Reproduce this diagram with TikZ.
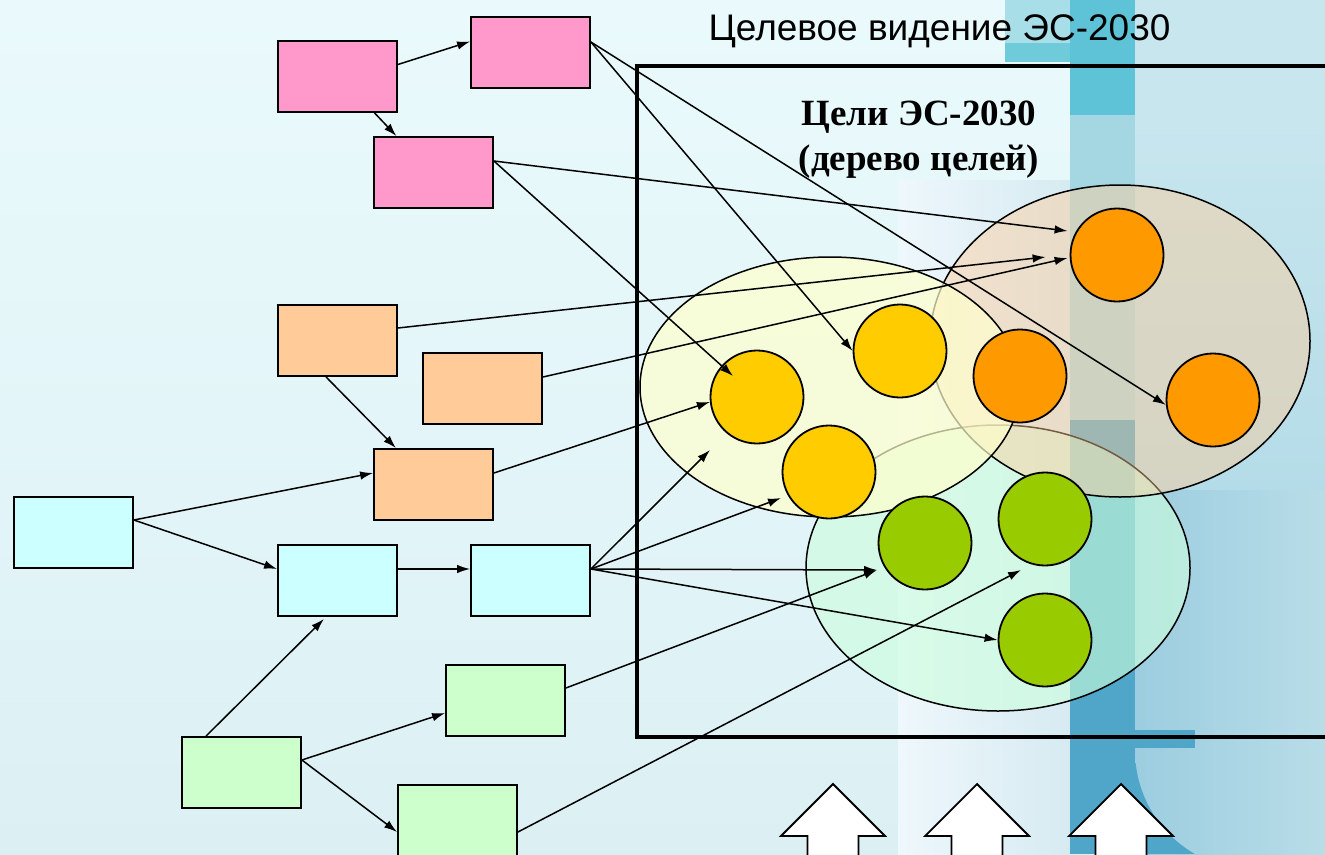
\documentclass[tikz,border=0pt]{standalone}
\usepackage{fontspec}
\setmainfont{Liberation Serif}
\newfontfamily\arialfont{Liberation Sans}
\usetikzlibrary{arrows.meta}
\definecolor{pinkF}{HTML}{FF99CC}
\definecolor{peachF}{HTML}{FFCC99}
\definecolor{cyanF}{HTML}{CCFFFF}
\definecolor{greenF}{HTML}{CCFFCC}
\definecolor{yellowC}{HTML}{FFCC00}
\definecolor{orangeC}{HTML}{FF9900}
\definecolor{greenC}{HTML}{99CC00}
\definecolor{bgTop}{HTML}{EAFAFC}
\definecolor{bgBot}{HTML}{DCF0F4}
\definecolor{bandL}{HTML}{EEF7FC}
\definecolor{bandR}{HTML}{D6EBF1}
\definecolor{stemTop}{HTML}{5EC3D6}
\definecolor{stemLight}{HTML}{A5D7E3}
\definecolor{stemDark}{HTML}{4FA6C8}
\definecolor{rightTop}{HTML}{C8E6EE}
\definecolor{rightMid}{HTML}{B4DCE8}
\definecolor{rightL}{HTML}{9CCDE0}
\definecolor{rightR}{HTML}{B8DDE7}
\definecolor{crossT}{HTML}{6FCAD9}
\definecolor{crossL}{HTML}{A8DEE8}
\definecolor{ellY}{HTML}{FFFFCC}
\definecolor{ellT}{HTML}{FFCC99}
\definecolor{ellG}{HTML}{CCFFDD}
\tikzset{
  box/.style={draw=black, line width=1.8pt, minimum width=119pt, minimum height=71pt, inner sep=0pt},
  goal/.style={circle, draw=black, line width=1.8pt, minimum size=93pt, inner sep=0pt},
  arr/.style={line width=1.5pt, -{Latex[length=13pt,width=8.5pt]}},
  blockarrow/.style={fill=white, draw=black, line width=1.8pt, line join=miter},
  area/.style={draw=black, line width=1.5pt}
}
\begin{document}
\begin{tikzpicture}[x=1pt,y=-1pt]
\useasboundingbox (0,0) rectangle (1325,854);
\clip (0,0) rectangle (1325,854);
% ---------- background ----------
\shade[top color=bgTop, bottom color=bgBot] (0,0) rectangle (1325,854);
\shade[left color=bandL, right color=bandR] (898,180) rectangle (1070,854);
\fill[crossL] (1005,0) rectangle (1070,43);
\fill[crossT] (1005,43) rectangle (1070,62);
\fill[rightTop] (1135,0) rectangle (1325,115);
\shade[top color=rightTop, bottom color=rightMid] (1135,115) rectangle (1325,490);
\shade[left color=rightL, right color=rightR] (1135,490) rectangle (1325,854);
\fill[stemTop] (1070,0) rectangle (1135,115);
\fill[stemLight] (1070,115) rectangle (1135,420);
\fill[stemDark] (1070,420) rectangle (1135,854);
\fill[stemDark] (1135,730) rectangle (1195,748);
\fill[stemDark] (1135,748) rectangle (1255,854);
\begin{scope}
  \clip (1135,748) rectangle (1325,854);
  \clip (1255,750) circle (120);
  \shade[left color=rightL, right color=rightR] (1135,490) rectangle (1325,854);
\end{scope}
% ---------- frame and titles ----------
\draw[line width=4.5pt] (637,66) rectangle (1345,737);
\node[font=\arialfont\fontsize{37}{44}\selectfont, anchor=base] (title) at (939.5,40) {Целевое видение ЭС-2030};
\node[font=\bfseries\fontsize{37}{45}\selectfont, align=center] (goals) at (919,140) {Цели ЭС-2030\\(дерево целей)};
% ---------- goal areas ----------
\fill[ellG, fill opacity=0.6] (998,568) ellipse [x radius=192, y radius=143];
\draw[area] (998,568) ellipse [x radius=192, y radius=143];
\fill[ellT, fill opacity=0.45] (1120,341) ellipse [x radius=190, y radius=156];
\draw[area] (1120,341) ellipse [x radius=190, y radius=156];
\fill[ellY, fill opacity=0.7] (830,387) ellipse [x radius=190, y radius=130];
\draw[area] (830,387) ellipse [x radius=190, y radius=130];
% ---------- goals ----------
\node[goal, fill=yellowC] (Y1) at (757,397) {};
\node[goal, fill=yellowC] (Y2) at (900,351) {};
\node[goal, fill=yellowC] (Y3) at (829,472) {};
\node[goal, fill=orangeC] (R1) at (1117,255) {};
\node[goal, fill=orangeC] (R2) at (1020,376) {};
\node[goal, fill=orangeC] (R3) at (1213,400) {};
\node[goal, fill=greenC] (Gc1) at (925,543) {};
\node[goal, fill=greenC] (Gc2) at (1045,519) {};
\node[goal, fill=greenC] (Gc3) at (1045,640) {};
% ---------- boxes ----------
\node[box, fill=pinkF] (P1) at (337.5,76.5) {};
\node[box, fill=pinkF] (P2) at (530.5,52.5) {};
\node[box, fill=pinkF] (P3) at (433.5,172.5) {};
\node[box, fill=peachF] (O1) at (337.5,340.5) {};
\node[box, fill=peachF] (O2) at (482.5,388.5) {};
\node[box, fill=peachF] (O3) at (433.5,484.5) {};
\node[box, fill=cyanF] (C1) at (73.5,532.5) {};
\node[box, fill=cyanF] (C2) at (337.5,580.5) {};
\node[box, fill=cyanF] (C3) at (530.5,580.5) {};
\node[box, fill=greenF] (G1) at (241.5,772.5) {};
\node[box, fill=greenF] (G2) at (505.5,700.5) {};
\node[box, fill=greenF] (G3) at (457.5,820.5) {};
\coordinate (free) at (710,450);
% ---------- connectors ----------
\draw[arr] ([yshift=12pt]P1.east) -- ([yshift=11pt]P2.west);
\draw[arr] ([xshift=37pt]P1.south) -- ([xshift=-37pt]P3.north);
\draw[arr] ([yshift=10.5pt]P2.east) -- (Y2.west);
\draw[arr] ([yshift=10.5pt]P2.east) -- (R3.186);
\draw[arr] ([yshift=11.5pt]P3.east) -- ([xshift=-2pt,yshift=24pt]R1.west);
\draw[arr] ([yshift=11.5pt]P3.east) -- ([xshift=-24pt,yshift=21pt]Y1.center);
\draw[arr] ([yshift=12.5pt]O1.east) -- ([xshift=-24pt,yshift=-2pt]R1.west);
\draw[arr] ([yshift=11.5pt]O2.east) -- ([xshift=-2pt,yshift=-3pt]R1.west);
\draw[arr] ([xshift=-11.5pt]O1.south) -- ([xshift=-37.5pt]O3.north);
\draw[arr] ([yshift=11.5pt]O3.east) -- (Y1.186);
\draw[arr] ([yshift=12.5pt]C1.east) -- ([yshift=11.5pt]O3.west);
\draw[arr] ([yshift=12.5pt]C1.east) -- ([yshift=11.5pt]C2.west);
\draw[arr] ([yshift=11.5pt]C2.east) -- ([yshift=11.5pt]C3.west);
\draw[arr] ([xshift=-35.5pt]G1.north) -- ([xshift=-13.5pt,yshift=-2pt]C2.south);
\draw[arr] ([yshift=12.5pt]G1.east) -- ([yshift=-12.5pt]G2.west);
\draw[arr] ([yshift=12.5pt]G1.east) -- ([yshift=-11.5pt]G3.west);
\draw[arr] ([yshift=11.5pt]C3.east) -- (free);
\draw[arr] ([yshift=11.5pt]C3.east) -- ([xshift=-48pt,yshift=-26pt]Y3.center);
\draw[arr] ([yshift=11.5pt]C3.east) -- ([xshift=-48pt,yshift=-27pt]Gc1.center);
\draw[arr] ([yshift=12.5pt]G2.east) -- ([xshift=-48pt,yshift=-27pt]Gc1.center);
\draw[arr] ([yshift=11.5pt]C3.east) -- (Gc3.west);
\draw[arr] ([yshift=-11.5pt]G3.east) -- ([xshift=-24pt,yshift=-51pt]Gc2.center);
% ---------- block arrows ----------
\foreach \tx in {833,977,1121}{
  \draw[blockarrow] (\tx,784) -- (\tx+52,836) -- (\tx+25.5,836) -- (\tx+25.5,870)
     -- (\tx-25.5,870) -- (\tx-25.5,836) -- (\tx-52,836) -- cycle;
}
\end{tikzpicture}
\end{document}
